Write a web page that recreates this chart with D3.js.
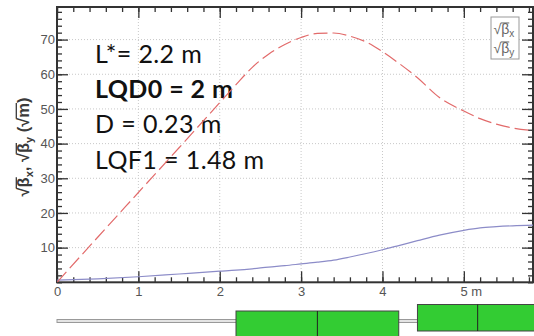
<!DOCTYPE html>
<html>
<head>
<meta charset="utf-8">
<script src="https://cdn.jsdelivr.net/npm/d3@7"></script>
<style>
  body { margin: 0; background: #fff; }
  svg { display: block; }
  .tick text { font-family: "Liberation Sans", Arial, sans-serif; font-size: 13px; fill: #555; }
</style>
</head>
<body>
<div id="chart"></div>
<script>
// SVG dimensions
var svgWidth = 534;
var svgHeight = 336;

// data (s in m)
var sPos = [0, 0.5, 1.0, 1.5, 2.0, 2.2, 2.4, 2.6, 2.8, 3.0, 3.2, 3.4, 3.6, 3.8, 4.0, 4.2, 4.43, 4.7, 5.0, 5.2, 5.4, 5.6, 5.85];
var sqrtBetaX = [0, 13, 25.9, 38.8, 51.8, 57, 62, 65.8, 68.6, 70.6, 71.8, 71.9, 71.0, 69.3, 66.5, 63.2, 59.0, 53.3, 49.4, 47.2, 45.6, 44.5, 43.8];
var sqrtBetaY = [0.6, 1.0, 1.6, 2.4, 3.2, 3.5, 3.9, 4.4, 4.8, 5.3, 5.8, 6.4, 7.3, 8.3, 9.4, 10.6, 12.0, 13.6, 15.0, 15.7, 16.05, 16.3, 16.5];

// lattice elements
var magnets = [
  { name: "QD0", start: 2.2, end: 4.2, type: "D" },
  { name: "QF1", start: 4.43, end: 5.91, type: "F" }
];

var notes = ["L*= 2.2 m", "LQD0 = 2 m", "D = 0.23 m", "LQF1 = 1.48 m"];

var xTicks = [0, 1, 2, 3, 4, 5];
var yTicks = [10, 20, 30, 40, 50, 60, 70];

var plot = { left: 57, right: 533, top: 7, bottom: 282.3 };

var svg = d3.select("#chart")
  .append("svg")
  .attr("width", svgWidth)
  .attr("height", svgHeight);

var xScale = d3.scaleLinear()
  .domain([0, 5.85])
  .range([plot.left, plot.right]);

var yScale = d3.scaleLinear()
  .domain([0, 79.4])
  .range([plot.bottom, plot.top]);

// dotted grid
var grid = svg.append("g");
grid.selectAll(".vgrid")
  .data(xTicks.slice(1))
  .enter()
  .append("line")
  .attr("x1", d => xScale(d)).attr("x2", d => xScale(d))
  .attr("y1", plot.top).attr("y2", plot.bottom)
  .attr("stroke", "#c8c8c8")
  .attr("stroke-dasharray", "1,2");
grid.selectAll(".hgrid")
  .data(yTicks)
  .enter()
  .append("line")
  .attr("x1", plot.left).attr("x2", plot.right)
  .attr("y1", d => yScale(d)).attr("y2", d => yScale(d))
  .attr("stroke", "#c8c8c8")
  .attr("stroke-dasharray", "1,2");

// minor ticks
var xMinor = d3.range(0, 5.85, 0.2);
var yMinor = d3.range(0, 79.4, 2);

function addAxis(axis, tx, ty) {
  var g = svg.append("g")
    .attr("transform", `translate(${tx}, ${ty})`)
    .call(axis);
  g.select(".domain").remove();
  g.selectAll(".tick line").attr("stroke", "#333").attr("stroke-width", 1.3);
  return g;
}

// major ticks with labels
addAxis(d3.axisBottom(xScale).tickValues(xTicks).tickSize(-11).tickPadding(4)
  .tickFormat(d => d === 5 ? "5 m" : d), 0, plot.bottom)
  .selectAll(".tick text")
  .attr("text-anchor", d => d === 5 ? "start" : "middle")
  .attr("dx", d => d === 5 ? "-0.3em" : 0);
addAxis(d3.axisLeft(yScale).tickValues(yTicks).tickSize(-11).tickPadding(2), plot.left, 0);
// top and right major ticks
addAxis(d3.axisTop(xScale).tickValues(xTicks).tickSize(-11).tickFormat(""), 0, plot.top);
addAxis(d3.axisRight(yScale).tickValues(yTicks).tickSize(-11).tickFormat(""), plot.right, 0);
// minor ticks all round
addAxis(d3.axisBottom(xScale).tickValues(xMinor).tickSize(-5).tickFormat(""), 0, plot.bottom);
addAxis(d3.axisTop(xScale).tickValues(xMinor).tickSize(-5).tickFormat(""), 0, plot.top);
addAxis(d3.axisLeft(yScale).tickValues(yMinor).tickSize(-5).tickFormat(""), plot.left, 0);
addAxis(d3.axisRight(yScale).tickValues(yMinor).tickSize(-5).tickFormat(""), plot.right, 0);

// frame
svg.append("rect")
  .attr("x", plot.left).attr("y", plot.top)
  .attr("width", plot.right - plot.left)
  .attr("height", plot.bottom - plot.top)
  .attr("fill", "none")
  .attr("stroke", "#333")
  .attr("stroke-width", 2);

// annotations
svg.selectAll(".note")
  .data(notes)
  .enter()
  .append("text")
  .attr("x", 95)
  .attr("y", (d, i) => 63 + i * 35.2)
  .attr("font-family", "Lato, 'Open Sans', sans-serif")
  .attr("font-size", 25)
  .attr("letter-spacing", 0.4)
  .attr("font-weight", (d, i) => i === 1 ? "bold" : "normal")
  .attr("fill", "#111")
  .text(d => d);

// curves
var line = d3.line().curve(d3.curveMonotoneX);
svg.append("clipPath").attr("id", "plotclip")
  .append("rect")
  .attr("x", plot.left).attr("y", plot.top)
  .attr("width", plot.right - plot.left).attr("height", plot.bottom - plot.top);

svg.append("path")
  .datum(sPos.map((s, i) => [xScale(s), yScale(sqrtBetaY[i])]))
  .attr("d", line)
  .attr("clip-path", "url(#plotclip)")
  .attr("fill", "none")
  .attr("stroke", "#8c8cc8")
  .attr("stroke-width", 1.2);

svg.append("path")
  .datum(sPos.map((s, i) => [xScale(s), yScale(sqrtBetaX[i])]))
  .attr("d", line)
  .attr("clip-path", "url(#plotclip)")
  .attr("fill", "none")
  .attr("stroke", "#e26a6a")
  .attr("stroke-width", 1.2)
  .attr("stroke-dasharray", "14,5");

// draw an overline over characters [from, to] of a text node, joined to the root sign
function overline(g, textSel, from, to, size) {
  var node = textSel.node();
  var a = node.getExtentOfChar(from);
  var b = node.getExtentOfChar(to);
  var yTop = a.y + size * 0.14;
  g.append("line")
    .attr("x1", a.x - 0.5).attr("x2", b.x + b.width)
    .attr("y1", yTop).attr("y2", yTop)
    .attr("stroke", textSel.attr("fill"))
    .attr("stroke-width", size > 14 ? 1.3 : 1);
}

// legend
var legend = svg.append("g").attr("transform", "translate(491, 17)");
legend.append("rect")
  .attr("width", 28).attr("height", 42)
  .attr("fill", "#fff")
  .attr("stroke", "#999");
["x", "y"].forEach(function(sub, i) {
  var t = legend.append("text")
    .attr("x", 2.5)
    .attr("y", 17 + i * 19)
    .attr("font-family", "'Liberation Sans', Arial, sans-serif")
    .attr("font-size", 14)
    .attr("fill", "#666");
  t.append("tspan").text("\u221A\u03B2");
  t.append("tspan").attr("font-size", 10).attr("dy", 3).text(sub);
  overline(legend, t, 1, 1, 14);
});

// y axis title
var titleG = svg.append("g").attr("transform", "translate(29, 147) rotate(-90)");
var title = titleG.append("text")
  .attr("text-anchor", "middle")
  .attr("font-family", "'Liberation Sans', Arial, sans-serif")
  .attr("font-size", 16.5)
  .attr("font-weight", "bold")
  .attr("fill", "#3a3a3a");
title.append("tspan").text("\u221A\u03B2");
title.append("tspan").attr("font-size", 11).attr("dy", 4).text("x");
title.append("tspan").attr("dy", -4).text(", \u221A\u03B2");
title.append("tspan").attr("font-size", 11).attr("dy", 4).text("y");
title.append("tspan").attr("dy", -4).text(" (\u221Am)");
overline(titleG, title, 1, 1, 16.5);
overline(titleG, title, 6, 6, 16.5);
overline(titleG, title, 11, 11, 16.5);

// beamline and magnets
var lattice = svg.append("g");
lattice.append("rect")
  .attr("x", xScale(0)).attr("y", 319.5)
  .attr("width", xScale(5.85) - xScale(0) + 10).attr("height", 3)
  .attr("fill", "#e4e4e4")
  .attr("stroke", "#999")
  .attr("stroke-width", 1);

lattice.selectAll(".mag")
  .data(magnets)
  .enter()
  .append("rect")
  .attr("x", d => xScale(d.start))
  .attr("y", d => d.type === "D" ? 311 : 304.5)
  .attr("width", d => xScale(d.end) - xScale(d.start))
  .attr("height", 26.5)
  .attr("fill", "#33cc33")
  .attr("stroke", "#444")
  .attr("stroke-width", 1);

lattice.selectAll(".mid")
  .data(magnets)
  .enter()
  .append("line")
  .attr("x1", d => xScale((d.start + d.end) / 2))
  .attr("x2", d => xScale((d.start + d.end) / 2))
  .attr("y1", d => d.type === "D" ? 311 : 304.5)
  .attr("y2", d => d.type === "D" ? 337.5 : 331)
  .attr("stroke", "#222")
  .attr("stroke-width", 1);
</script>
</body>
</html>
